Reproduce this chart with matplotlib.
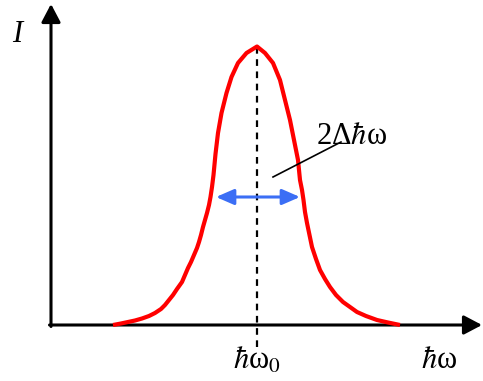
import numpy as np
import matplotlib
matplotlib.use("Agg")
import matplotlib.pyplot as plt

plt.rcParams['font.family'] = ['Liberation Serif', 'DejaVu Serif']
plt.rcParams['mathtext.fontset'] = 'stix'

# line profile (energy from axis origin, intensity above baseline)
energy = [62, 70, 77, 84, 91, 98, 104, 110, 114, 118, 122, 126, 131, 134, 137, 140, 143,
          146, 148, 150, 152, 154, 156, 158, 159.5, 161, 162.5, 164.5, 167, 170.5,
          175.5, 180.5, 187, 195.5, 206,
          214, 222, 229, 234, 239, 243, 247, 249, 251, 252.5, 254, 256, 258.5, 261,
          265, 269, 274, 279, 285, 292, 299, 306, 315, 326, 337, 349]
intensity = [0, 1.5, 3, 4.5, 6.5, 9, 12, 16, 20, 25, 30, 36, 43, 50, 57, 63, 70,
             77, 83, 90, 98, 105, 112, 120, 128, 138, 150, 171, 192, 212,
             232, 248, 262, 272, 278.5,
             272, 262, 245, 225, 205, 185, 165, 145, 135, 125, 113, 102, 90, 78,
             66, 55, 46, 38, 30, 23, 18, 13, 9, 5, 2.5, 0]

peak_energy = 206
peak_intensity = 278.5
half_left, half_right = 165, 249
half_level = 128

x_label = "$\\hbar$ω"
y_label = "I"
peak_label = "$\\hbar$ω$_0$"
width_label = "2Δ$\\hbar$ω"

fig = plt.figure(figsize=(4.83, 3.81), dpi=100)
ax = fig.add_axes([0, 0, 1, 1])
ax.set_xlim(-51, 432)
ax.set_ylim(-56, 325)
ax.axis("off")

# axes with arrow heads
axis_style = dict(arrowstyle="-|>,head_length=11,head_width=5.8", lw=2.2,
                  color="black", shrinkA=0, shrinkB=0, mutation_scale=1)
ax.annotate("", xy=(0, 321), xytext=(0, -1.5), arrowprops=axis_style)
ax.annotate("", xy=(431, 0), xytext=(-1.5, 0), arrowprops=axis_style)

# dashed centre line
ax.plot([peak_energy, peak_energy], [peak_intensity, -22], color="black",
        lw=1.6, ls=(0, (3, 2.5)), zorder=2)

# profile
ax.plot(energy, intensity, color="#ff0000", lw=3, solid_joinstyle="round",
        solid_capstyle="butt", zorder=3)

# width arrow
ax.annotate("", xy=(half_right, half_level), xytext=(half_left, half_level),
            arrowprops=dict(arrowstyle="<|-|>,head_length=10.8,head_width=4.7",
                            lw=2.2, color="#3b6ef5", shrinkA=0, shrinkB=0,
                            mutation_scale=1), zorder=4)

# leader line and label
ax.plot([222, 290], [148, 183], color="black", lw=1.2, zorder=4)
ax.text(301, 188, width_label, fontsize=22, ha="center", va="center", zorder=5)

ax.text(-34, 290, y_label, fontsize=22, style="italic", ha="center", va="center")
ax.text(peak_energy, -36, peak_label, fontsize=22, ha="center", va="center")
ax.text(388, -36, x_label, fontsize=22, ha="center", va="center")

fig.savefig("out.png", dpi=100)
